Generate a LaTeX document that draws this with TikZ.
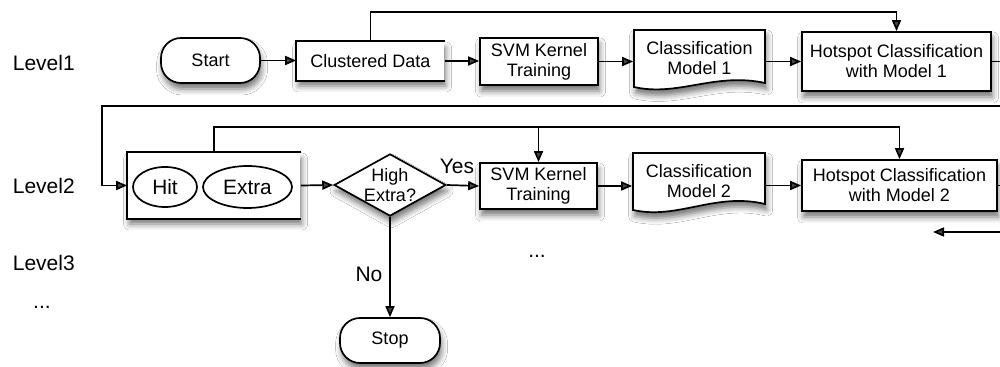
\documentclass[tikz,border=0pt]{standalone}
\usepackage{fontspec}
\setmainfont{Liberation Sans}
\usetikzlibrary{arrows.meta,shapes.geometric,shadows.blur,calc}
\begin{document}
\begin{tikzpicture}[x=0.5pt,y=-0.5pt,
  line width=0.85pt,
  arr/.style={-{Triangle[length=5.5pt,width=4.5pt]}},
  shad/.style={blur shadow={shadow xshift=0.8pt,shadow yshift=-3pt,shadow blur radius=3pt,shadow opacity=55}},
  txt/.style={font=\fontsize{9}{10}\selectfont,align=center},
  box/.style={txt,draw,fill=white,shad,inner sep=0pt},
  openbox/.style={txt,fill=white,shad,inner sep=0pt},
  docbase/.style={txt,inner sep=0pt},
  term/.style={box,rounded corners=10pt},
  ell/.style={ellipse,draw,fill=white,inner sep=0pt,font=\fontsize{10.4}{12}\selectfont},
  dec/.style={diamond,draw,fill=white,shad,aspect=1.8,inner sep=0pt,txt},
  lvl/.style={anchor=west,inner sep=0pt,font=\fontsize{10.5}{12}\selectfont},
  lab/.style={inner sep=0pt,font=\fontsize{10.5}{12}\selectfont},
  docshape/.style={draw,fill=white,shad}
]
\useasboundingbox (0,0) rectangle (1000,367);
\fill[white] (0,0) rectangle (1000,367);
\clip (0,0) rectangle (1000,367);

% level labels
\node[lvl] (lv1) at (12,63) {Level1};
\node[lvl] (lv2) at (12,186) {Level2};
\node[lvl] (lv3) at (12,263) {Level3};
\node[lab] (dots1) at (42,307) {...};
\node[lab] (dots2) at (537,256) {...};

% row 1
\node[term,minimum width=49.5pt,minimum height=22.5pt] (start) at (210.5,60.5) {Start};
\node[openbox,minimum width=73.5pt,minimum height=19pt] (cd) at (370.5,61) {Clustered Data};
\draw (cd.north east) -- (cd.north west) -- (cd.south west) -- (cd.south east);
\node[box,minimum width=59pt,minimum height=23.5pt] (svm1) at (539,61.5) {SVM Kernel\\Training};
\draw[docshape] (634,87) -- (634,30) -- (765,30) -- (765,83)
  .. controls (715,72) and (678,97) .. (634,87) -- cycle;
\node[docbase,minimum width=65.5pt,minimum height=28.5pt] (cm1) at (699.5,58.5) {Classification\\Model 1};
\node[box,minimum width=94.5pt,minimum height=29.5pt] (h1) at (896.5,61.5) {Hotspot Classification\\with Model 1};

% row 2
\node[openbox,minimum width=86pt,minimum height=32.5pt] (box2) at (214,185.5) {};
\draw (box2.north east) -- (box2.north west) -- (box2.south west) -- (box2.south east);
\node[ell,minimum width=32pt,minimum height=20pt] (hit) at (165,187) {Hit};
\node[ell,minimum width=44.5pt,minimum height=21pt] (extra) at (247.5,187) {Extra};
\node[dec] (dia) at (390,185) {High\\Extra?};
\node[box,minimum width=58.5pt,minimum height=23pt] (svm2) at (538.5,186) {SVM Kernel\\Training};
\draw[docshape] (633,210) -- (633,153) -- (765,153) -- (765,204)
  .. controls (715,192) and (678,220) .. (633,210) -- cycle;
\node[docbase,minimum width=66pt,minimum height=28.5pt] (cm2) at (699,181.5) {Classification\\Model 2};
\node[box,minimum width=97.5pt,minimum height=25.5pt] (h2) at (899.5,185.5) {Hotspot Classification\\with Model 2};
\node[term,minimum width=50pt,minimum height=22.5pt] (stop) at (390,340.5) {Stop};

\node[lab] (yes) at (457,166) {Yes};
\node[lab] (no) at (369,274) {No};

% helper coordinates
\coordinate (t1) at (896.5,12);
\coordinate (r1) at (1012,106);
\coordinate (l1) at (102,106);
\coordinate (t2) at (899.5,127);
\coordinate (r2) at (1012,232);
\coordinate (e2) at (933,232);

% connectors row 1
\draw[arr] (start.east) -- (start.east -| cd.west);
\draw[arr] (cd.east) -- (cd.east -| svm1.west);
\draw[arr] (svm1.east) -- (svm1.east -| cm1.west);
\draw[arr] (cm1.east |- h1.west) -- (h1.west);
\draw[arr] (cd.north) |- (t1) -- (h1.north);
\draw[arr] (h1.east) -| (r1) -- (l1) |- (box2.west);

% connectors row 2
\draw[arr] (box2.east) -- (dia.west);
\draw[arr] (dia.east) -- (svm2.west);
\draw[arr] (svm2.east) -- (svm2.east -| cm2.west);
\draw[arr] (cm2.east |- h2.west) -- (h2.west);
\draw[arr] (box2.north) |- (t2) -- (h2.north);
\draw[arr] (svm2.north |- t2) -- (svm2.north);
\draw[arr] (dia.south) -- (stop.north);
\draw[arr] (h2.east) -| (r2) -- (e2);
\end{tikzpicture}
\end{document}
